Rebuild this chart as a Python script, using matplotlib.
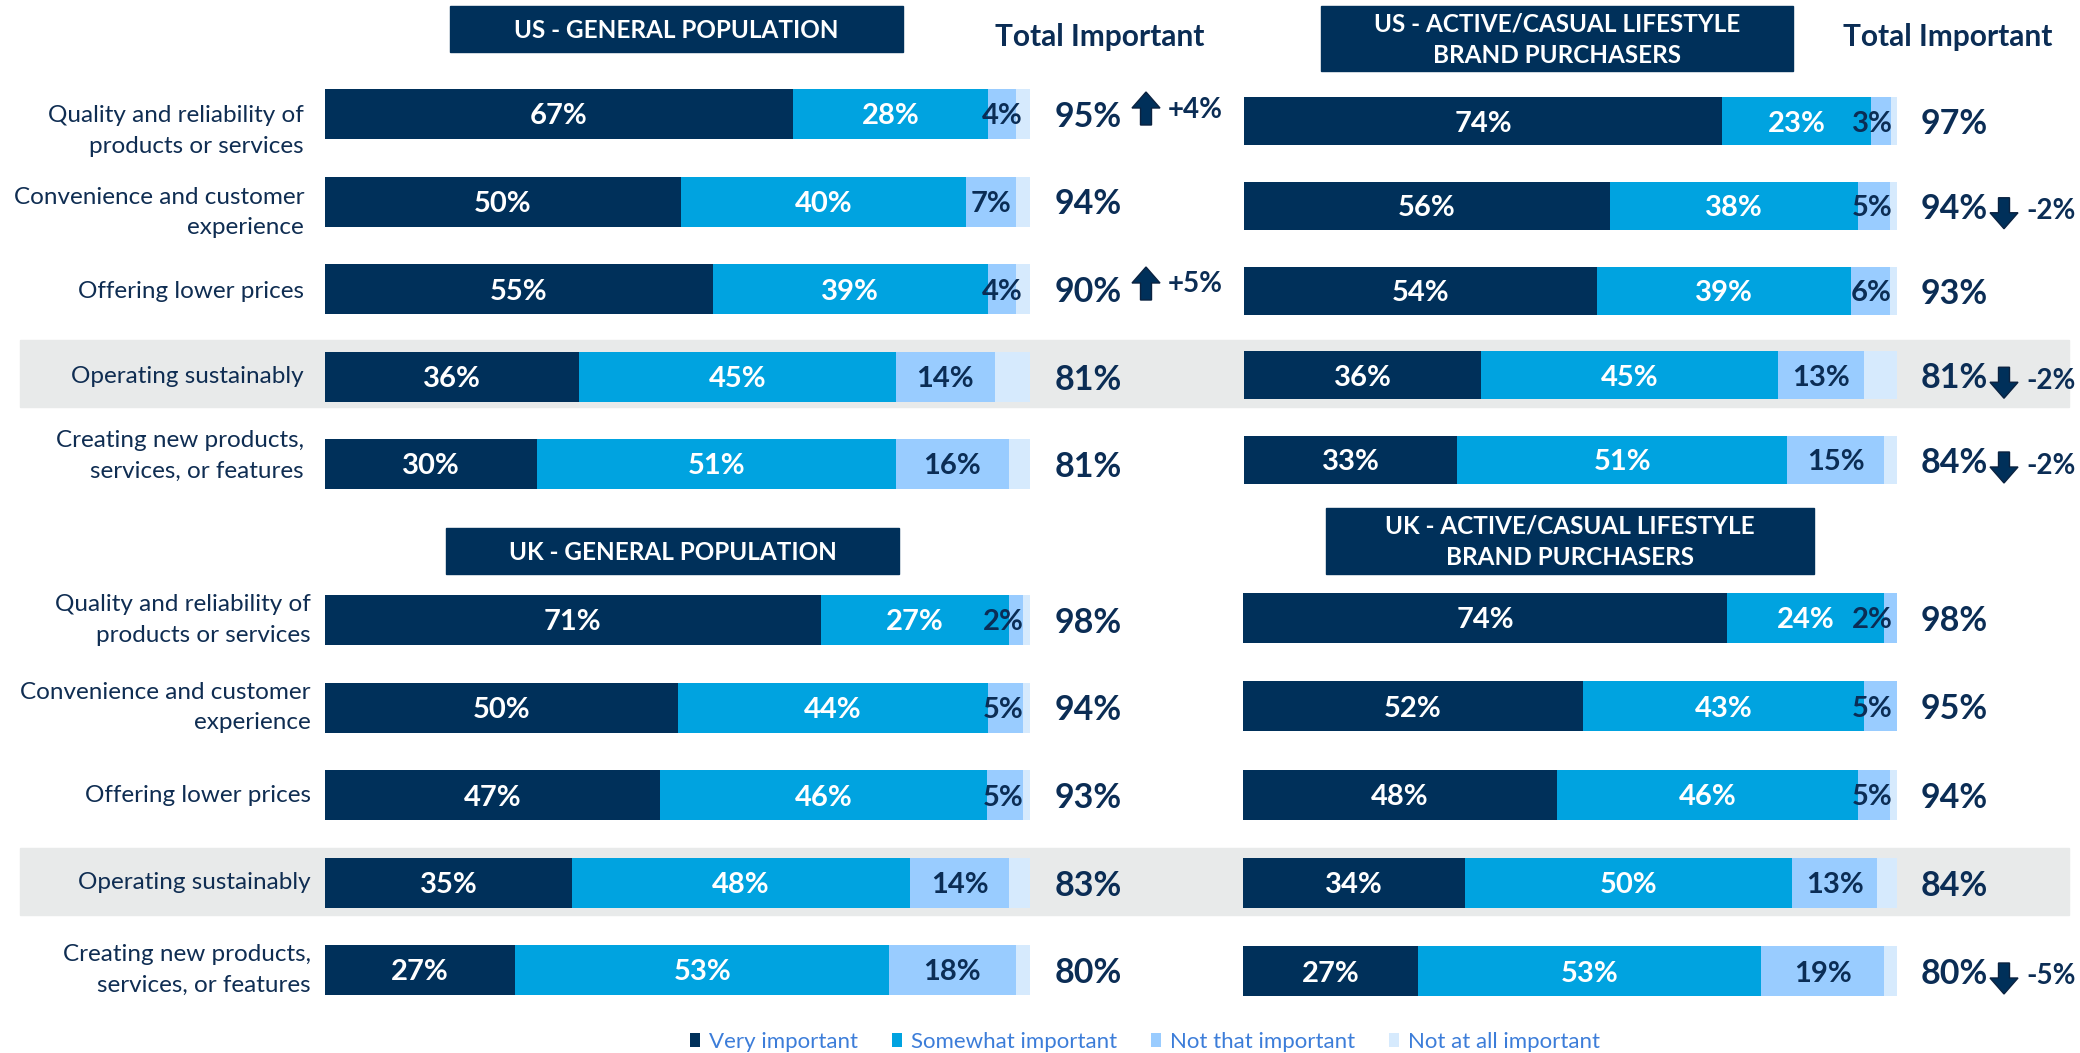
import matplotlib
matplotlib.use("Agg")
import matplotlib.pyplot as plt
from matplotlib import transforms
from matplotlib.patches import Rectangle, FancyArrow

plt.rcParams['font.family'] = ['Lato', 'DejaVu Sans']

# Categories and series names
categories = ["Quality and reliability of\nproducts or services",
              "Convenience and customer\nexperience",
              "Offering lower prices",
              "Operating sustainably",
              "Creating new products,\nservices, or features"]
series_names = ["Very important", "Somewhat important",
                "Not that important", "Not at all important"]

# US - general population
us_gen_very = [67, 50, 55, 36, 30]
us_gen_somewhat = [28, 40, 39, 45, 51]
us_gen_not_that = [4, 7, 4, 14, 16]
us_gen_not_at_all = [2, 2, 2, 5, 3]
us_gen_total = [95, 94, 90, 81, 81]
us_gen_change = [4, 0, 5, 0, 0]

# US - active/casual lifestyle brand purchasers
us_act_very = [74, 56, 54, 36, 33]
us_act_somewhat = [23, 38, 39, 45, 51]
us_act_not_that = [3, 5, 6, 13, 15]
us_act_not_at_all = [1, 1, 1, 5, 2]
us_act_total = [97, 94, 93, 81, 84]
us_act_change = [0, -2, 0, -2, -2]

# UK - general population
uk_gen_very = [71, 50, 47, 35, 27]
uk_gen_somewhat = [27, 44, 46, 48, 53]
uk_gen_not_that = [2, 5, 5, 14, 18]
uk_gen_not_at_all = [1, 1, 1, 3, 2]
uk_gen_total = [98, 94, 93, 83, 80]
uk_gen_change = [0, 0, 0, 0, 0]

# UK - active/casual lifestyle brand purchasers
uk_act_very = [74, 52, 48, 34, 27]
uk_act_somewhat = [24, 43, 46, 50, 53]
uk_act_not_that = [2, 5, 5, 13, 19]
uk_act_not_at_all = [0, 0, 1, 3, 2]
uk_act_total = [98, 95, 94, 84, 80]
uk_act_change = [0, 0, 0, 0, -5]

colors = ["#00305A", "#00A3E0", "#99CCFF", "#D6EAFD"]
navy = "#0B2D55"
label_color = "#0F2D52"
band_color = "#E8EAEA"

W, H = 2080, 1053
fig = plt.figure(figsize=(W / 100, H / 100), dpi=100)
# pixel coordinates measured from the top-left corner
PX = transforms.Affine2D().scale(1 / W, -1 / H).translate(0, 1) + fig.transFigure

# grey highlight behind "Operating sustainably"
for ytop in (340, 848):
    fig.add_artist(Rectangle((20, ytop), 2049, 67, transform=PX,
                             color=band_color, zorder=-5))

panels = [
    dict(title="US - GENERAL POPULATION", box=(450, 6, 903, 52),
         x0=325, x1=1030, rows=(114, 464), bar_h=50, labels=True,
         label_x=304, label_dy=[17, 11, 2, 0, -8], tot_x=1055, arr_x=1146,
         header=1100,
         data=(us_gen_very, us_gen_somewhat, us_gen_not_that, us_gen_not_at_all),
         total=us_gen_total, change=us_gen_change),
    dict(title="US - ACTIVE/CASUAL LIFESTYLE\nBRAND PURCHASERS", box=(1321, 6, 1793, 71),
         x0=1244, x1=1897, rows=(121, 460), bar_h=48, labels=False,
         tot_x=1921, arr_x=2004, header=1948,
         data=(us_act_very, us_act_somewhat, us_act_not_that, us_act_not_at_all),
         total=us_act_total, change=us_act_change),
    dict(title="UK - GENERAL POPULATION", box=(446, 528, 899, 574),
         x0=325, x1=1030, rows=(620, 970), bar_h=50, labels=True,
         label_x=311, label_dy=[0, 0, 0, 0, 0], tot_x=1055, arr_x=1146,
         header=None,
         data=(uk_gen_very, uk_gen_somewhat, uk_gen_not_that, uk_gen_not_at_all),
         total=uk_gen_total, change=uk_gen_change),
    dict(title="UK - ACTIVE/CASUAL LIFESTYLE\nBRAND PURCHASERS", box=(1326, 508, 1814, 574),
         x0=1243, x1=1897, rows=(618, 971), bar_h=50, labels=False,
         tot_x=1921, arr_x=2004, header=None,
         data=(uk_act_very, uk_act_somewhat, uk_act_not_that, uk_act_not_at_all),
         total=uk_act_total, change=uk_act_change),
]

legend_handles = None
for p in panels:
    n = len(categories)
    r0, r1 = p["rows"]
    sp = (r1 - r0) / (n - 1)
    ytop, ybot = r0 - sp / 2, r1 + sp / 2
    ax = fig.add_axes([p["x0"] / W, 1 - ybot / H, (p["x1"] - p["x0"]) / W, (ybot - ytop) / H])
    ax.set_xlim(0, 100)
    ax.set_ylim(n - 0.5, -0.5)
    ax.axis("off")
    ax.patch.set_visible(False)
    tr = transforms.blended_transform_factory(PX, ax.transData)

    rows = list(range(n))
    sums = [sum(v) for v in zip(*p["data"])]
    left = [0.0] * n
    handles = []
    for k, (vals, c) in enumerate(zip(p["data"], colors)):
        widths = [v / s * 100 for v, s in zip(vals, sums)]
        bars = ax.barh(rows, widths, left=left, height=p["bar_h"] / sp,
                       color=c, label=series_names[k])
        handles.append(bars)
        if k < 3:
            for i, (v, w) in enumerate(zip(vals, widths)):
                xc = left[i] + w / 2
                if k == 2:
                    xc = min(xc, 96.2)
                ax.text(xc, i, f"{v}%", ha="center", va="center_baseline",
                        fontsize=21, fontweight="bold",
                        color="white" if k < 2 else navy)
        left = [l + w for l, w in zip(left, widths)]
    if legend_handles is None:
        legend_handles = handles

    # category labels
    if p["labels"]:
        for i, cat in enumerate(categories):
            ax.text(p["label_x"], i + p["label_dy"][i] / sp, cat, transform=tr,
                    ha="right", va="center", fontsize=17.5, color=label_color,
                    linespacing=1.55)

    # totals and changes
    for i, (t, ch) in enumerate(zip(p["total"], p["change"])):
        ax.text(p["tot_x"], i, f"{t}%", transform=tr, ha="left", va="center_baseline",
                fontsize=24.5, fontweight="bold", color=navy)
        if ch:
            yc = r0 + i * sp
            if ch > 0:
                arr = FancyArrow(p["arr_x"], yc + 11, 0, -33, width=11, head_width=28,
                                 head_length=16, length_includes_head=True,
                                 transform=PX, fc="#00305A", ec="#0B2240", lw=1)
                ty = yc - 7
            else:
                arr = FancyArrow(p["arr_x"], yc - 8, 0, 31, width=11, head_width=28,
                                 head_length=16, length_includes_head=True,
                                 transform=PX, fc="#00305A", ec="#0B2240", lw=1)
                ty = yc + 3
            fig.add_artist(arr)
            fig.text(p["arr_x"] + 22, ty, f"{ch:+d}%", transform=PX, ha="left",
                     va="center_baseline", fontsize=20, fontweight="bold", color=navy)

    # title box
    bx0, by0, bx1, by1 = p["box"]
    fig.add_artist(Rectangle((bx0, by0), bx1 - bx0, by1 - by0, transform=PX,
                             color="#00305A", zorder=2))
    fig.text((bx0 + bx1) / 2, (by0 + by1) / 2 + 1, p["title"], transform=PX,
             ha="center", va="center", fontsize=17.5, fontweight="bold",
             color="white", linespacing=1.45, zorder=3)
    if p["header"]:
        fig.text(p["header"], 37, "Total Important", transform=PX, ha="center",
                 va="center", fontsize=21.5, fontweight="bold", color=navy)

fig.legend(legend_handles, series_names, loc="center", ncol=4,
           bbox_to_anchor=(1145 / W, 1 - 1042 / H), frameon=False,
           fontsize=16, labelcolor="#3C7DD9", handlelength=0.48,
           handleheight=0.62, handletextpad=0.4, columnspacing=1.5)

fig.savefig("out.png", dpi=100)
